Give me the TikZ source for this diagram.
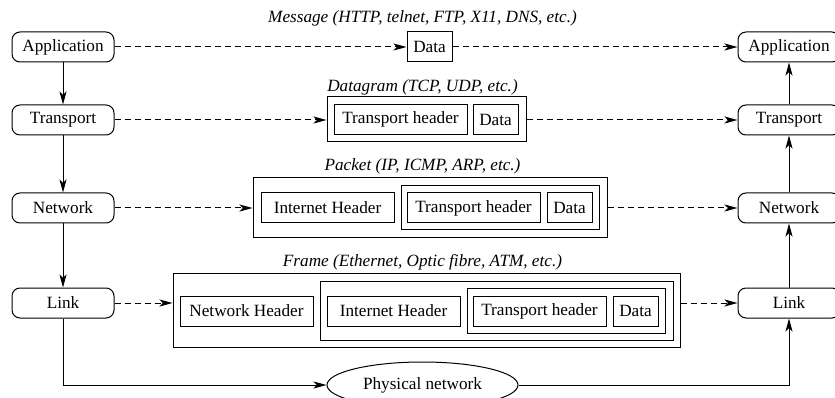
\documentclass[tikz,border=0pt]{standalone}
\usepackage{fontspec}
\setmainfont{Liberation Serif}
\usetikzlibrary{arrows.meta,shapes.geometric}
\begin{document}
\begin{tikzpicture}[x=1pt,y=-1pt,
  font=\fontsize{17.2}{20}\selectfont,
  line width=1pt,
  tip/.style={-{Stealth[length=13pt,width=7pt,inset=3.5pt]}},
  layer/.style={draw,rounded corners=8pt,minimum width=102pt,minimum height=30pt,inner sep=0pt},
  pbox/.style={draw,minimum height=30pt,inner sep=0pt},
  frm/.style={draw,inner sep=0pt},
  lbl/.style={font=\fontsize{17.2}{20}\selectfont\itshape,inner sep=0pt},
  dsh/.style={tip,dash pattern=on 6pt off 4pt}]
\clip (0,0) rectangle (835,398);
% layers
\node[layer] (appL) at (63,47) {Application};
\node[layer] (trL) at (63,120) {Transport};
\node[layer] (netL) at (63,208) {Network};
\node[layer] (linkL) at (63,303) {Link};
\node[layer] (appR) at (789,47) {Application};
\node[layer] (trR) at (789,120) {Transport};
\node[layer] (netR) at (789,208) {Network};
\node[layer] (linkR) at (789,303) {Link};
% message
\node[lbl] (lmsg) at (422.5,18) {Message (HTTP, telnet, FTP, X11, DNS, etc.)};
\node[pbox,minimum width=45pt] (msgD) at (429.5,47) {Data};
% datagram
\node[lbl] (ldg) at (422.5,87) {Datagram (TCP, UDP, etc.)};
\node[frm,minimum width=199pt,minimum height=45pt] (dg) at (426.5,119.5) {};
\node[pbox,minimum width=133pt] (dgTH) at (400.5,119.5) {Transport header};
\node[pbox,minimum width=45pt] (dgD) at (495.5,119.5) {Data};
% packet
\node[lbl] (lpk) at (422.5,166) {Packet (IP, ICMP, ARP, etc.)};
\node[frm,minimum width=354pt,minimum height=59pt] (pk) at (430,207.5) {};
\node[pbox,minimum width=133pt] (pkIH) at (327.5,208) {Internet Header};
\node[frm,minimum width=198pt,minimum height=44pt] (pkIn) at (500,207.5) {};
\node[pbox,minimum width=133pt] (pkTH) at (473.5,208) {Transport header};
\node[pbox,minimum width=45pt] (pkD) at (569.5,208) {Data};
% frame
\node[lbl] (lfr) at (422.5,262) {Frame (Ethernet, Optic fibre, ATM, etc.)};
\node[frm,minimum width=507pt,minimum height=74pt] (fr) at (426.5,310) {};
\node[pbox,minimum width=133pt] (frNH) at (246.5,311) {Network Header};
\node[frm,minimum width=353pt,minimum height=59pt] (fr2) at (496.5,310.5) {};
\node[pbox,minimum width=133pt] (frIH) at (393.5,311) {Internet Header};
\node[frm,minimum width=198pt,minimum height=45pt] (fr3) at (566,310.5) {};
\node[pbox,minimum width=133pt] (frTH) at (539.5,311) {Transport header};
\node[pbox,minimum width=45pt] (frD) at (635.5,311) {Data};
% physical
\node[draw,ellipse,minimum width=191pt,minimum height=46pt,inner sep=0pt] (phys) at (422.5,385) {Physical network};
% dashed connectors
\draw[dsh] (appL.east) -- (msgD.west);
\draw[dsh] (msgD.east) -- (appR.west);
\draw[dsh] (trL.east) -- (trL.east -| dg.west);
\draw[dsh] (trR.west -| dg.east) -- (trR.west);
\draw[dsh] (netL.east) -- (netL.east -| pk.west);
\draw[dsh] (netR.west -| pk.east) -- (netR.west);
\draw[dsh] (linkL.east) -- (linkL.east -| fr.west);
\draw[dsh] (linkR.west -| fr.east) -- (linkR.west);
% vertical
\draw[tip] (appL.south) -- (trL.north);
\draw[tip] (trL.south) -- (netL.north);
\draw[tip] (netL.south) -- (linkL.north);
\draw[tip] (linkR.north) -- (netR.south);
\draw[tip] (netR.north) -- (trR.south);
\draw[tip] (trR.north) -- (appR.south);
% physical route
\draw[tip] (linkL.south) |- (phys.west);
\draw[tip] (phys.east) -| (linkR.south);
\end{tikzpicture}
\end{document}
